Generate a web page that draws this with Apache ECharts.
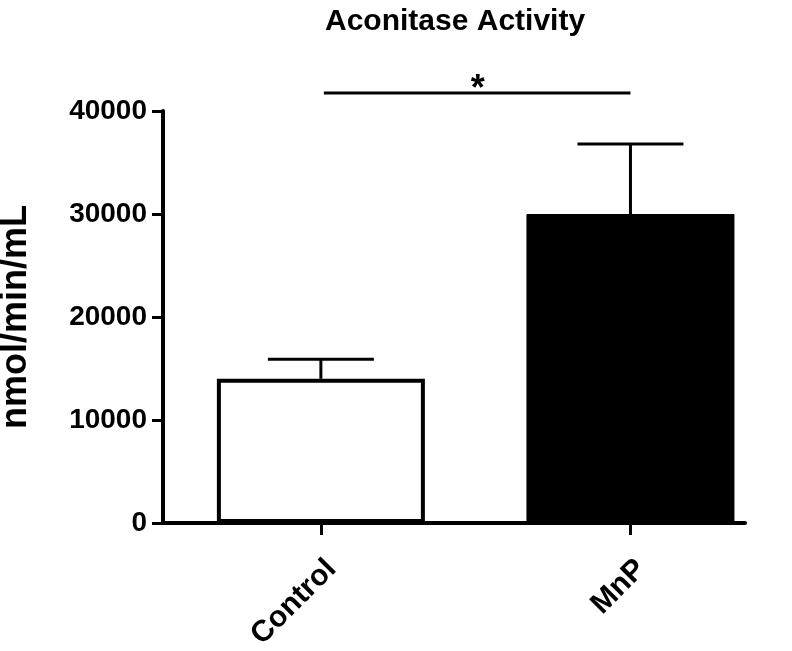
<!DOCTYPE html>
<html>
<head>
<meta charset="utf-8">
<title>Aconitase Activity</title>
<script src="https://cdn.jsdelivr.net/npm/echarts@6/dist/echarts.min.js"></script>
<style>
  html, body { margin: 0; padding: 0; background: #fff; }
  #main { width: 792px; height: 651px; }
</style>
</head>
<body>
<div id="main"></div>
<script>
// data
var categories = ['Control', 'MnP'];
var means = [14000, 30000];        // bar heights
var errTops = [15900, 36800];      // top of the error bars (mean + SEM)
var yTicks = [0, 10000, 20000, 30000, 40000];
var sigPair = [0, 1];              // bars joined by the significance line
var sigLevel = [41750];            // height of that line
var sigMark = ['*'];

var FONT = 'Liberation Sans';
var chart = echarts.init(document.getElementById('main'));

// bar data on a numeric x axis, one slot per category
var barData = categories.map(function (c, i) {
  return {
    value: [i, means[i]],
    itemStyle: i === 0
      ? { color: '#fff', borderColor: '#000', borderWidth: 4 }
      : { color: '#000', borderColor: '#000', borderWidth: 1 }
  };
});
var errData = categories.map(function (c, i) { return [i, means[i], errTops[i]]; });

var option = {
  backgroundColor: '#fff',
  animation: false,
  title: {
    text: 'Aconitase Activity',
    left: 320,
    top: 2,
    textStyle: { fontFamily: FONT, fontWeight: 'bold', fontSize: 30, color: '#000' }
  },
  grid: { left: 163, right: 47, top: 111, bottom: 128, containLabel: false, outerBoundsMode: 'none' },
  xAxis: {
    type: 'value',
    min: -0.51,
    max: 1.37,
    splitLine: { show: false },
    axisLine: { onZero: false, lineStyle: { color: '#000', width: 4 } },
    axisTick: { show: true, customValues: [0, 1], length: 12, lineStyle: { color: '#000', width: 3 } },
    axisLabel: {
      customValues: [0, 1],
      rotate: 45,
      margin: 31,
      verticalAlign: 'top',
      formatter: function (v) { return categories[Math.round(v)]; },
      fontFamily: FONT, fontWeight: 'bold', fontSize: 30, color: '#000'
    }
  },
  yAxis: {
    type: 'value',
    min: yTicks[0],
    max: yTicks[yTicks.length - 1],
    interval: 10000,
    name: 'nmol/min/mL',
    nameLocation: 'middle',
    nameRotate: 90,
    nameGap: 129,
    nameTextStyle: { fontFamily: FONT, fontWeight: 'bold', fontSize: 36, color: '#000' },
    splitLine: { show: false },
    axisLine: { show: true, onZero: false, lineStyle: { color: '#000', width: 4 } },
    axisTick: { show: true, length: 11, lineStyle: { color: '#000', width: 3 } },
    axisLabel: {
      margin: 16,
      formatter: function (v) { return String(v); },
      fontFamily: FONT, fontWeight: 'bold', fontSize: 28, color: '#000'
    }
  },
  series: [
    {
      type: 'bar',
      barWidth: 208,
      data: barData,
      z: 2
    },
    {
      // upper error bars
      type: 'custom',
      data: errData,
      z: 1,
      encode: { x: 0, y: [1, 2] },
      renderItem: function (params, api) {
        var base = api.coord([api.value(0), api.value(1)]);
        var top = api.coord([api.value(0), api.value(2)]);
        var half = 53;
        var st = { stroke: '#000', lineWidth: 3 };
        return {
          type: 'group',
          children: [
            { type: 'line', shape: { x1: base[0], y1: base[1], x2: top[0], y2: top[1] }, style: st },
            { type: 'line', shape: { x1: top[0] - half, y1: top[1], x2: top[0] + half, y2: top[1] }, style: st }
          ]
        };
      }
    },
    {
      // significance line with star
      type: 'custom',
      clip: false,
      data: [[sigPair[0], sigPair[1], sigLevel[0]]],
      encode: { x: [0, 1], y: 2 },
      renderItem: function (params, api) {
        var a = api.coord([api.value(0), api.value(2)]);
        var b = api.coord([api.value(1), api.value(2)]);
        return {
          type: 'group',
          children: [
            { type: 'line', shape: { x1: a[0] + 3, y1: a[1], x2: b[0], y2: b[1] }, style: { stroke: '#000', lineWidth: 3 } },
            {
              type: 'text',
              style: {
                text: sigMark[0],
                x: (a[0] + b[0]) / 2 + 2,
                y: a[1] + 15,
                align: 'center',
                verticalAlign: 'bottom',
                font: 'bold 36px "' + FONT + '"',
                fill: '#000'
              }
            }
          ]
        };
      }
    }
  ]
};

chart.setOption(option);
</script>
</body>
</html>
